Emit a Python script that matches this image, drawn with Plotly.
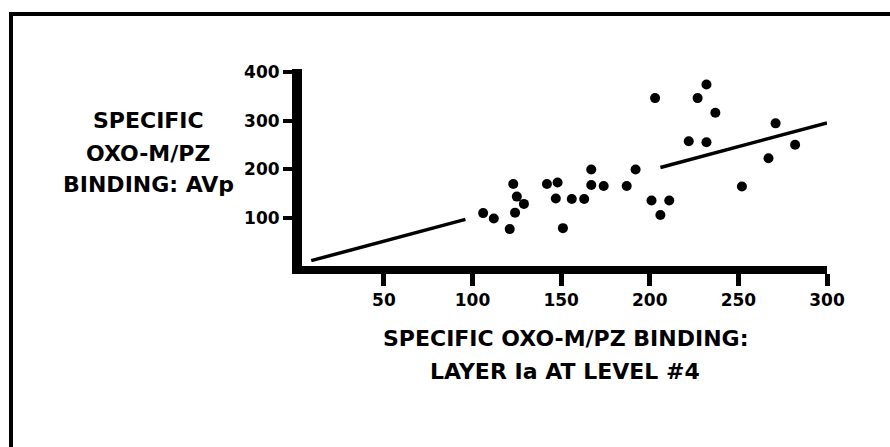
import plotly.graph_objects as go

# Data
x_vals = [106, 112, 121, 123, 124, 125, 129, 142, 147, 148, 151, 156, 163, 167, 167,
          174, 187, 192, 201, 203, 206, 211, 222, 227, 232, 232, 237, 252, 267, 271, 282]
y_vals = [110, 99, 77, 170, 111, 144, 129, 170, 140, 173, 79, 139, 139, 200, 168,
          166, 166, 200, 136, 347, 106, 136, 258, 347, 375, 256, 317, 165, 223, 295, 251]

# regression line, drawn in two pieces (gap in the middle of the cloud)
fit_x = [9, 96, None, 206, 300]
fit_y = [12, 97, None, 204, 296]

x_ticks = [50, 100, 150, 200, 250, 300]
y_ticks = [100, 200, 300, 400]

y_title_lines = ["SPECIFIC", "OXO-M/PZ", "BINDING: AVp"]
x_title_lines = ["SPECIFIC OXO-M/PZ BINDING:", "LAYER Ia AT LEVEL #4"]

FONT = "DejaVu Sans"

fig = go.Figure()
fig.add_trace(go.Scatter(x=fit_x, y=fit_y, mode="lines",
                         line=dict(color="black", width=3.5),
                         connectgaps=False, hoverinfo="skip", showlegend=False))
fig.add_trace(go.Scatter(x=x_vals, y=y_vals, mode="markers",
                         marker=dict(color="black", size=10, line=dict(width=0)),
                         showlegend=False))

L, R, T, B = 302, 63, 69, 181
W, H = 890, 447
pw, ph = W - L - R, H - T - B


def px_x(p):
    return (p - L) / pw


def px_y(p):
    return (H - B - p) / ph


fig.update_layout(
    width=W, height=H,
    margin=dict(l=L, r=R, t=T, b=B, pad=0),
    paper_bgcolor="white", plot_bgcolor="white",
    font=dict(family=FONT, color="black", size=17, weight="bold"),
    xaxis=dict(range=[3.8, 300], showgrid=False, zeroline=False,
               showline=True, linecolor="black", linewidth=8,
               ticks="outside", ticklen=12, tickwidth=5, tickcolor="black",
               tickvals=x_ticks, ticktext=[str(v) for v in x_ticks],
               tickfont=dict(family=FONT, size=17, color="black", weight="bold")),
    yaxis=dict(range=[1, 407], showgrid=False, zeroline=False,
               showline=True, linecolor="black", linewidth=10,
               ticks="outside", ticklen=9, tickwidth=4, tickcolor="black",
               tickvals=y_ticks, ticktext=[str(v) for v in y_ticks],
               tickfont=dict(family=FONT, size=17, color="black", weight="bold")),
)

# y-axis title lines
for line, py in zip(y_title_lines, [120.5, 153, 184]):
    fig.add_annotation(text=line, xref="paper", yref="paper",
                       x=px_x(148), y=px_y(py), xanchor="center", yanchor="middle",
                       showarrow=False,
                       font=dict(family=FONT, size=22, color="black", weight="bold"))

# x-axis title lines
for line, py in zip(x_title_lines, [338, 371]):
    fig.add_annotation(text=line, xref="paper", yref="paper",
                       x=px_x(565), y=px_y(py), xanchor="center", yanchor="middle",
                       showarrow=False,
                       font=dict(family=FONT, size=22, color="black", weight="bold"))

# frame around the figure (top and left edges visible, the rest runs off the page)
fig.add_shape(type="rect", xref="paper", yref="paper",
              x0=px_x(11), x1=px_x(900), y0=px_y(460), y1=px_y(14),
              line=dict(color="black", width=4), fillcolor="rgba(0,0,0,0)",
              layer="above")

fig.write_html("out.html")
